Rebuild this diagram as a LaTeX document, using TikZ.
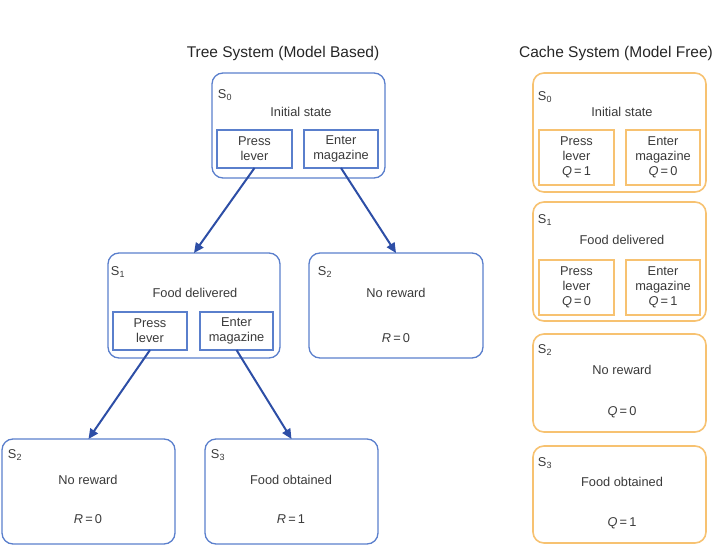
\documentclass[tikz,border=0pt]{standalone}
\usepackage{fontspec}
\setmainfont{Liberation Sans}
\usetikzlibrary{arrows.meta}
\definecolor{tblue}{HTML}{5A7FCC}
\definecolor{ablue}{HTML}{2D4EA6}
\definecolor{corange}{HTML}{F7C271}
\definecolor{tgray}{HTML}{3A3A3A}
\begin{document}
\begin{tikzpicture}[x=1pt,y=-1pt,
  sbox/.style={draw=#1, line width=1.3pt, rounded corners=11pt, inner sep=0pt, outer sep=0pt, anchor=north west},
  ibox/.style={draw=#1, line width=1.2pt, inner sep=0pt, outer sep=0pt, align=center,
    font=\fontsize{12.8}{15}\selectfont, text=tgray},
  txt/.style={font=\fontsize{12.8}{15}\selectfont, text=tgray, inner sep=0pt},
  ttl/.style={font=\fontsize{15.5}{18}\selectfont, text=black!85, inner sep=0pt},
  arr/.style={-{Triangle[length=10pt,width=9pt]}, draw=ablue, line width=2pt}
]
\useasboundingbox (0,0) rectangle (719,553);

% titles
\node[ttl] (ttree) at (283,53) {Tree System (Model Based)};
\node[ttl] (tcache) at (616,53) {Cache System (Model Free)};

% ---------- Tree system ----------
\node[sbox=tblue, minimum width=173pt, minimum height=105pt] (t0) at (212,73) {};
\node[txt] (t0s) at (225,95) {S\textsubscript{0}};
\node[txt] (t0n) at (301,112) {Initial state};
\node[ibox=tblue, minimum width=75pt, minimum height=38pt] (t0pl) at (254.5,149) {Press\\lever};
\node[ibox=tblue, minimum width=74pt, minimum height=38pt] (t0em) at (341,149) {Enter\\magazine};

\node[sbox=tblue, minimum width=172pt, minimum height=105pt] (t1) at (108,253) {};
\node[txt] (t1s) at (118,272) {S\textsubscript{1}};
\node[txt] (t1n) at (195,293) {Food delivered};
\node[ibox=tblue, minimum width=74pt, minimum height=38pt] (t1pl) at (150,331) {Press\\lever};
\node[ibox=tblue, minimum width=73pt, minimum height=38pt] (t1em) at (236.5,331) {Enter\\magazine};

\node[sbox=tblue, minimum width=174pt, minimum height=105pt] (t2) at (309,253) {};
\node[txt] (t2s) at (325,272) {S\textsubscript{2}};
\node[txt] (t2n) at (396,293) {No reward};
\node[txt] (t2r) at (396,338) {\textit{R}\,=\,0};

\node[sbox=tblue, minimum width=173pt, minimum height=105pt] (t3) at (2,439) {};
\node[txt] (t3s) at (15,455) {S\textsubscript{2}};
\node[txt] (t3n) at (88,480) {No reward};
\node[txt] (t3r) at (88,519) {\textit{R}\,=\,0};

\node[sbox=tblue, minimum width=173pt, minimum height=105pt] (t4) at (205,439) {};
\node[txt] (t4s) at (218,455) {S\textsubscript{3}};
\node[txt] (t4n) at (291,480) {Food obtained};
\node[txt] (t4r) at (291,519) {\textit{R}\,=\,1};

\draw[arr] (t0pl.south) -- (t1.north);
\draw[arr] (t0em.south) -- (t2.north);
\draw[arr] (t1pl.south) -- (t3.north);
\draw[arr] (t1em.south) -- (t4.north);

% ---------- Cache system ----------
\node[sbox=corange, line width=1.6pt, minimum width=173pt, minimum height=119pt] (c0) at (533,73) {};
\node[txt] (c0s) at (545,97) {S\textsubscript{0}};
\node[txt] (c0n) at (622,112) {Initial state};
\node[ibox=corange, line width=1.5pt, minimum width=75pt, minimum height=55pt] (c0pl) at (576.5,157.5) {Press\\lever\\\textit{Q}\,=\,1};
\node[ibox=corange, line width=1.5pt, minimum width=74pt, minimum height=55pt] (c0em) at (663,157.5) {Enter\\magazine\\\textit{Q}\,=\,0};

\node[sbox=corange, line width=1.6pt, minimum width=173pt, minimum height=119pt] (c1) at (533,202) {};
\node[txt] (c1s) at (545,220) {S\textsubscript{1}};
\node[txt] (c1n) at (622,240) {Food delivered};
\node[ibox=corange, line width=1.5pt, minimum width=75pt, minimum height=55pt] (c1pl) at (576.5,287.5) {Press\\lever\\\textit{Q}\,=\,0};
\node[ibox=corange, line width=1.5pt, minimum width=74pt, minimum height=55pt] (c1em) at (663,287.5) {Enter\\magazine\\\textit{Q}\,=\,1};

\node[sbox=corange, line width=1.6pt, minimum width=173pt, minimum height=98pt] (c2) at (533,334) {};
\node[txt] (c2s) at (545,350) {S\textsubscript{2}};
\node[txt] (c2n) at (622,370) {No reward};
\node[txt] (c2q) at (622,412) {\textit{Q}\,=\,0};

\node[sbox=corange, line width=1.6pt, minimum width=173pt, minimum height=97pt] (c3) at (533,446) {};
\node[txt] (c3s) at (545,463) {S\textsubscript{3}};
\node[txt] (c3n) at (622,482) {Food obtained};
\node[txt] (c3q) at (622,523) {\textit{Q}\,=\,1};
\end{tikzpicture}
\end{document}
